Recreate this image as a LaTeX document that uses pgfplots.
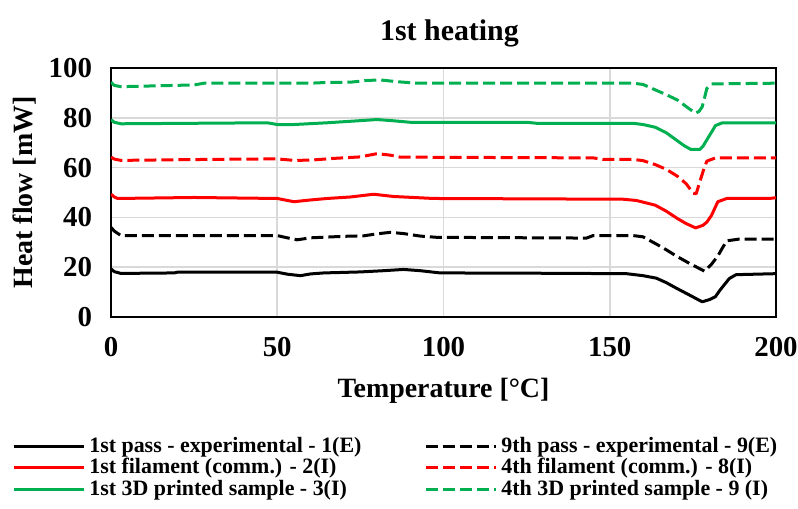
\documentclass[border=0pt]{standalone}
\usepackage{pgfplots}
\pgfplotsset{compat=1.18}
\usepackage{fontspec}
\setmainfont{Liberation Serif}
\definecolor{xlgreen}{RGB}{0,176,80}
\definecolor{xlgrid}{RGB}{217,217,217}

\begin{document}
\begin{tikzpicture}
\begin{axis}[
    name=ax,
    width=332.5bp, height=124.5bp,
    scale only axis,
    xmin=0, xmax=200, ymin=0, ymax=100,
    xtick={0,50,...,200}, ytick={0,20,...,100},
    major tick length=0pt,
    grid=major,
    grid style={xlgrid, line width=0.75bp},
    axis line style={black, line width=0.75bp},
    tick label style={font=\fontsize{14.5}{16}\selectfont\bfseries},
    /pgf/number format/assume math mode=true,
    xticklabel style={yshift=-6.5bp},
    yticklabel style={xshift=-6bp},
    title={1st heating},
    title style={font=\fontsize{15}{18}\selectfont\bfseries, yshift=1bp, xshift=3bp},
    xlabel={Temperature [°C]},
    ylabel={Heat flow [mW]},
    label style={font=\fontsize{14}{16}\selectfont\bfseries},
    xlabel style={yshift=-4bp},
    ylabel style={yshift=-0.5bp},
    legend columns=2,
    legend cell align=left,
    legend style={draw=none, fill=none,
        at={(axis description cs:0,0)}, anchor=north west,
        xshift=-52.5bp, yshift=-56bp,
        font=\fontsize{11}{12}\selectfont\bfseries,
        row sep=-2.5bp,
        /tikz/every even column/.append style={column sep=29.5bp}},
    legend image code/.code={\draw[line width=1.5bp,#1] (0bp,0bp) -- (35bp,0bp);},
    every axis plot/.append style={line width=1.5bp, line join=round},
    dashed line/.style={dash pattern=on 6bp off 2.5bp},
]
\addplot[black] coordinates {
(0,19.3)(1,18.2)(3,17.5)(19,17.7)(20,18)(50,18)(53,17.2)(57,16.6)(60,17.3)(64,17.7)(75,18.1)(82,18.6)(88,19.1)(93,18.6)(99,17.7)(125,17.6)(155,17.4)(160,16.6)(164,15.6)(167,13.8)(170,11.6)(174,8.8)(177.8,6.1)(180,7.0)(181.8,8.2)(183,10.5)(184,12.2)(186,15.5)(188,17)(200,17.4)};
\addlegendentry{1st pass - experimental - 1(E)}
\addplot[black, dashed line] coordinates {
(0,36)(1,34.5)(3,32.7)(50,32.7)(53,31.8)(56,31)(60,31.8)(70,32.4)(76,32.6)(80,33.4)(84,34)(88,33.5)(93,32.5)(98,32)(143,31.7)(145,32.7)(157,32.7)(160,32.2)(164,29.3)(167,27)(170,24.5)(174,21.5)(178.5,18.4)(180.5,21)(182.5,24.5)(184,28)(185.2,30.6)(189,31.3)(200,31.3)};
\addlegendentry{9th pass - experimental - 9(E)}
\addplot[red] coordinates {
(0,49.3)(1,48.2)(2,47.6)(25,48)(50,47.6)(55,46.3)(60,47)(65,47.6)(72,48.2)(79,49.3)(85,48.4)(97,47.6)(154,47.3)(158,46.8)(163.7,44.9)(167,42.5)(170.4,39.5)(173,37.5)(175.8,35.8)(178,36.8)(179.2,38.1)(180.6,40.8)(182.5,46.3)(185.2,47.6)(198,47.6)(200,47.9)};
\addlegendentry{1st filament (comm.) - 2(I)}
\addplot[red, dashed line] coordinates {
(0,64.2)(1,63.4)(3,62.9)(30,63.3)(50,63.5)(55,62.9)(60,63)(67,63.7)(75,64.3)(80,65.6)(84,65)(87,64.2)(145,63.9)(148,63.3)(157,63.3)(160,62.8)(163.7,61.2)(167,59.3)(170.4,56.5)(173,53.5)(175.1,49.7)(176,49.5)(177.1,54.4)(178.2,59)(179.2,62.6)(181.8,63.9)(200,63.9)};
\addlegendentry{4th filament (comm.) - 8(I)}
\addplot[xlgreen] coordinates {
(0,79.2)(1,78.2)(3,77.6)(47,78)(50,77.3)(55,77.3)(65,78)(72,78.6)(80,79.3)(85,78.8)(90,78.2)(125,78.2)(128,77.8)(157,77.8)(160,77.3)(163.7,76.2)(167,74)(170.4,70.7)(172.5,68.7)(174.4,67.3)(177.1,67.3)(178,68.5)(179,70.7)(180.5,74)(181.8,76.9)(183.9,78)(200,78)};
\addlegendentry{1st 3D printed sample - 3(I)}
\addplot[xlgreen, dashed line] coordinates {
(0,94.3)(1,93)(3,92.5)(25,93.2)(28,93.9)(60,93.9)(65,94.2)(72,94.3)(77,95)(81,95.2)(86,94.5)(92,93.9)(157,93.9)(160,93.4)(163.7,91.2)(167,89.3)(170.4,87.1)(173.8,83.7)(175.8,81.9)(176.8,82.5)(177.8,84.4)(178.5,88)(179.2,91.8)(180.6,93.6)(200,93.9)};
\addlegendentry{4th 3D printed sample - 9 (I)}
\end{axis}
\pgfresetboundingbox
\path[use as bounding box] ([shift={(-55.5bp,-96bp)}]ax.south west) rectangle ([shift={(-55.5bp+399bp,158.5bp)}]ax.south west);
\end{tikzpicture}
\end{document}
